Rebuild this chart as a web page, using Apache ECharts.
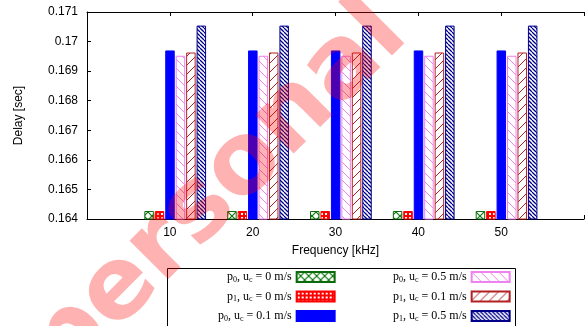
<!DOCTYPE html>
<html>
<head>
<meta charset="utf-8">
<script src="https://cdn.jsdelivr.net/npm/echarts@6/dist/echarts.min.js"></script>
<style>
  html, body { margin: 0; padding: 0; background: #fff; }
  #chart { width: 587px; height: 326px; }
</style>
</head>
<body>
<div id="chart"></div>
<script>
// data
const freqs = [10, 20, 30, 40, 50];
const yTicks = [0.164, 0.165, 0.166, 0.167, 0.168, 0.169, 0.17, 0.171];

const p0u0 = [0.16427, 0.16427, 0.16427, 0.16427, 0.16427];
const p1u0 = [0.16427, 0.16427, 0.16427, 0.16427, 0.16427];
const p0u01 = [0.16970, 0.16970, 0.16970, 0.16970, 0.16970];
const p0u05 = [0.16952, 0.16952, 0.16952, 0.16952, 0.16952];
const p1u01 = [0.16963, 0.16963, 0.16963, 0.16963, 0.16963];
const p1u05 = [0.17054, 0.17054, 0.17054, 0.17054, 0.17054];

// legend text parts: p index, speed
const pIdx = ['0', '1', '0', '0', '1', '1'];
const speeds = ['0', '0', '0.1', '0.5', '0.1', '0.5'];
const allValues = [p0u0, p1u0, p0u01, p0u05, p1u01, p1u05];

// fill patterns
function tile(size, bg, draw) {
  const c = document.createElement('canvas');
  c.width = c.height = size;
  const g = c.getContext('2d');
  if (bg) { g.fillStyle = bg; g.fillRect(0, 0, size, size); }
  draw(g, size);
  return c;
}
function diag(g, s, color, w, back) {
  g.strokeStyle = color;
  g.lineWidth = w;
  g.beginPath();
  for (let x = -s; x <= s; x += s) {
    if (back) { g.moveTo(x, 0); g.lineTo(x + s, s); }
    else { g.moveTo(x, s); g.lineTo(x + s, 0); }
  }
  g.stroke();
}
const greenTile = tile(8, '#fff', (g, s) => { diag(g, s, '#0b7a0b', 1.2, true); diag(g, s, '#0b7a0b', 1.2, false); });
const redTile = tile(4, '#ff0000', (g) => { g.fillStyle = '#fff'; g.fillRect(1, 1, 2, 2); });
const pinkTile = tile(9, '#fff', (g, s) => diag(g, s, '#ee82ee', 1, true));
const brownTile = tile(9, '#fff', (g, s) => diag(g, s, '#b22222', 1, false));
const navyTile = tile(4, '#fff', (g, s) => diag(g, s, '#00008b', 1.3, true));

const fills = [
  { image: greenTile, repeat: 'repeat' },
  { image: redTile, repeat: 'repeat' },
  '#0000ff',
  { image: pinkTile, repeat: 'repeat' },
  { image: brownTile, repeat: 'repeat' },
  { image: navyTile, repeat: 'repeat' }
];
const borders = ['#0b6b0b', '#ff0000', '#0000ff', '#ee82ee', '#b22222', '#00008b'];

const names = pIdx.map((p, i) => 'p' + p + ', uc = ' + speeds[i] + ' m/s');

const series = names.map((name, i) => ({
  name: name,
  type: 'bar',
  xAxisIndex: 2,
  barWidth: 9.5,
  barGap: '10%',
  itemStyle: { color: fills[i], borderColor: borders[i], borderWidth: 1 },
  data: freqs.map((f, k) => [f, allValues[i][k]])
}));

function legendText(name) {
  const i = names.indexOf(name);
  return '{t|p}{s|' + pIdx[i] + '}{t|, u}{s|c}{t| = ' + speeds[i] + ' m/s}';
}
const legendFont = {
  fontFamily: 'Liberation Serif',
  color: '#000',
  rich: {
    t: { fontFamily: 'Liberation Serif', fontSize: 12, color: '#000' },
    s: { fontFamily: 'Liberation Serif', fontSize: 8, color: '#000', verticalAlign: 'bottom', padding: [5, 0, 0, 0] }
  }
};
const sans = 'Liberation Sans';

const chart = echarts.init(document.getElementById('chart'));
chart.setOption({
  animation: false,
  backgroundColor: '#fff',
  grid: { left: 87, right: -8, top: 12, bottom: 107 },
  xAxis: [
    {
      type: 'value', position: 'bottom', min: 0, max: 60, interval: 10,
      name: 'Frequency [kHz]', nameLocation: 'middle', nameGap: 26,
      nameTextStyle: { fontFamily: sans, fontSize: 12, color: '#000' },
      axisLine: { lineStyle: { color: '#000', width: 1.2 } },
      axisTick: { inside: true, length: 4, lineStyle: { color: '#000' } },
      axisLabel: { fontFamily: sans, fontSize: 12, color: '#000', margin: 8,
        formatter: v => (v === 0 || v === 60) ? '' : String(v) },
      splitLine: { show: false }
    },
    {
      type: 'value', position: 'top', min: 0, max: 60, interval: 10,
      axisLine: { lineStyle: { color: '#000', width: 1 } },
      axisTick: { inside: true, length: 4, lineStyle: { color: '#000' } },
      axisLabel: { show: false },
      splitLine: { show: false }
    },
    {
      // bar placement axis, groups sit a little right of the ticks
      type: 'value', show: false, min: -0.65, max: 59.35
    }
  ],
  yAxis: {
    type: 'value', min: yTicks[0], max: yTicks[yTicks.length - 1], interval: 0.001,
    name: 'Delay [sec]', nameLocation: 'middle', nameGap: 62, nameRotate: 90,
    nameTextStyle: { fontFamily: sans, fontSize: 12, color: '#000' },
    axisLine: { show: true, lineStyle: { color: '#000', width: 1 } },
    axisTick: { show: true, inside: true, length: 4, lineStyle: { color: '#000' } },
    axisLabel: { fontFamily: sans, fontSize: 12, color: '#000', margin: 9,
      formatter: v => String(+v.toFixed(3)) },
    splitLine: { show: false }
  },
  legend: [
    {
      data: names.slice(0, 3), orient: 'vertical', align: 'right',
      left: 218, top: 271, padding: 0, itemGap: 7, itemWidth: 38, itemHeight: 10,
      icon: 'rect', selectedMode: false, formatter: legendText, textStyle: legendFont
    },
    {
      data: names.slice(3), orient: 'vertical', align: 'right',
      left: 393, top: 271, padding: 0, itemGap: 7, itemWidth: 38, itemHeight: 10,
      icon: 'rect', selectedMode: false, formatter: legendText, textStyle: legendFont
    }
  ],
  graphic: [
    {
      type: 'rect', left: 167, top: 268, z: -1, silent: true,
      shape: { width: 348, height: 80 },
      style: { fill: '#fff', stroke: '#000', lineWidth: 1 }
    },
    {
      // faded red watermark over the figure
      type: 'text', x: 10, y: 330, rotation: Math.PI / 4, z: 100, silent: true,
      style: { text: 'personal', font: 'bold 100px "DejaVu Sans"', fill: 'rgba(255,0,0,0.3)' }
    }
  ],
  series: series
});
</script>
</body>
</html>
